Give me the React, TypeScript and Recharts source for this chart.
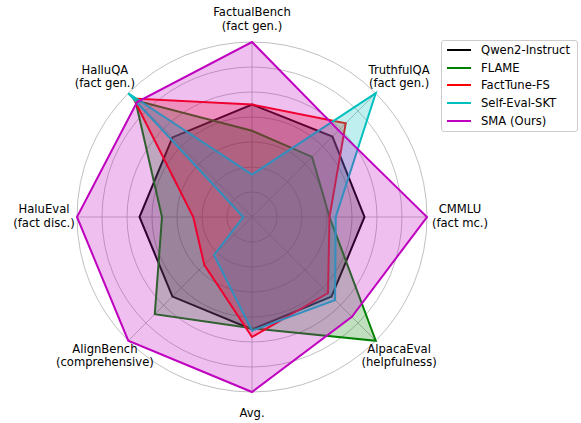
import { RadarChart, Radar, PolarGrid, PolarAngleAxis, PolarRadiusAxis, Legend } from "recharts";

// axes, clockwise from the top
const CATEGORIES = [
    "FactualBench\n(fact gen.)",
    "TruthfulQA\n(fact gen.)",
    "CMMLU\n(fact mc.)",
    "AlpacaEval\n(helpfulness)",
    "Avg.",
    "AlignBench\n(comprehensive)",
    "HaluEval\n(fact disc.)",
    "HalluQA\n(fact gen.)",
];

// normalized scores (grid rings every 0.2, up to 1.4)
const QWEN2 = [0.9, 0.91, 0.9, 0.9, 0.9, 0.9, 0.9, 0.9];
const FLAME = [0.69, 0.68, 0.62, 1.4, 0.89, 1.1, 0.72, 1.32];
const FACTTUNE = [0.9, 1.06, 0.62, 0.86, 0.96, 0.54, 0.47, 1.34];
const SELF_EVAL = [0.34, 1.4, 0.67, 0.94, 0.91, 0.43, 0.07, 1.4];
const SMA = [1.4, 0.98, 1.4, 1.13, 1.4, 1.4, 1.4, 1.3];

const SERIES = [
    { key: "qwen2", name: "Qwen2-Instruct", values: QWEN2, color: "#000000" },
    { key: "flame", name: "FLAME", values: FLAME, color: "#008000" },
    { key: "facttune", name: "FactTune-FS", values: FACTTUNE, color: "#ff0000" },
    { key: "selfeval", name: "Self-Eval-SKT", values: SELF_EVAL, color: "#00bfbf" },
    { key: "sma", name: "SMA (Ours)", values: SMA, color: "#bf00bf" },
];

const data = CATEGORIES.map((category, i) => {
    const row: Record<string, string | number> = { category };
    SERIES.forEach((s) => { row[s.key] = s.values[i]; });
    return row;
});

const CX = 252;
const CY = 217;
const FONT = "'DejaVu Sans', sans-serif";
const FONT_SIZE = 11.6;

function AxisLabel(props: any) {
    const { payload } = props;
    const rad = (payload.coordinate * Math.PI) / 180;
    const bx = CX + 208 * Math.cos(rad);
    const by = CY - 197 * Math.sin(rad) - 1;
    const lines = String(payload.value).split("\n");
    const lh = 13.3;
    const y0 = by - ((lines.length - 1) * lh) / 2 + 4;
    return (
        <text x={bx} y={y0} textAnchor="middle" fontSize={FONT_SIZE} fill="#000" fontFamily={FONT}>
            {lines.map((l, i) => (
                <tspan key={i} x={bx} y={y0 + i * lh}>{l}</tspan>
            ))}
        </text>
    );
}

function LegendBox() {
    return (
        <div style={{
            width: 135, height: 90, border: "1px solid #cccccc", borderRadius: 3,
            background: "rgba(255,255,255,0.8)", fontFamily: FONT, fontSize: FONT_SIZE, boxSizing: "content-box",
        }}>
            {SERIES.map((s) => (
                <div key={s.key} style={{ display: "flex", alignItems: "center", height: 17.7 }}>
                    <div style={{ width: 24, height: 2, background: s.color, marginLeft: 5, marginRight: 10, flexShrink: 0 }} />
                    <span style={{ color: "#000", whiteSpace: "nowrap" }}>{s.name}</span>
                </div>
            ))}
        </div>
    );
}

export default function App() {
    return (
        <div style={{ position: "absolute", left: 0, top: 0, width: 581, height: 423, background: "#fff" }}>
            <RadarChart width={581} height={423} cx={CX} cy={CY} outerRadius={175} data={data}>
                <PolarGrid
                    gridType="circle"
                    stroke="#b0b0b0"
                    strokeWidth={0.8}
                    polarRadius={[25, 50, 75, 100, 125, 150, 175]}
                />
                <PolarRadiusAxis domain={[0, 1.4]} tick={false} axisLine={false} tickCount={8} />
                <PolarAngleAxis dataKey="category" tick={<AxisLabel />} tickLine={false} axisLine={false} />
                {SERIES.map((s) => (
                    <Radar
                        key={s.key}
                        name={s.name}
                        dataKey={s.key}
                        stroke={s.color}
                        strokeWidth={2}
                        fill={s.color}
                        fillOpacity={0.25}
                        dot={false}
                        isAnimationActive={false}
                    />
                ))}
                <Legend content={() => <LegendBox />} wrapperStyle={{ left: 441, top: 40, width: "auto" }} />
            </RadarChart>
        </div>
    );
}
